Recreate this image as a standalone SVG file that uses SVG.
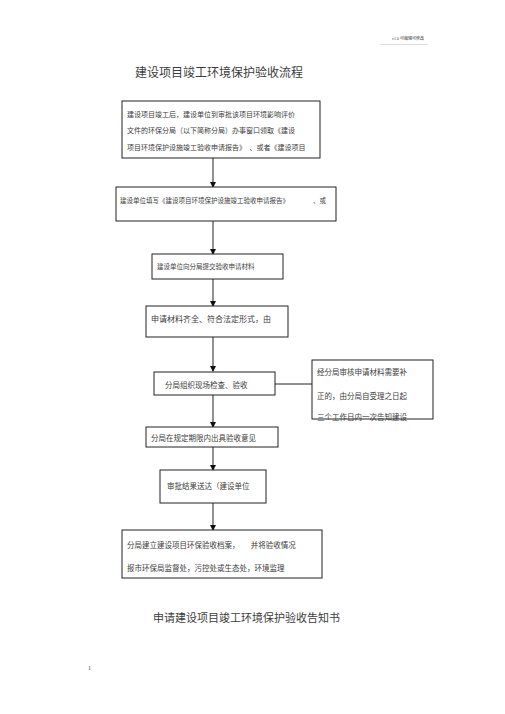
<svg xmlns="http://www.w3.org/2000/svg" width="505" height="714" viewBox="0 0 505 714">
<style>
.box{fill:#fff;stroke:#222;stroke-width:1}
.t{font-family:"Liberation Serif","Noto Sans CJK SC",serif;fill:#3c3c3c}
.c{stroke:#222;stroke-width:1;fill:none}
</style>
<defs>
<marker id="ah" markerWidth="6" markerHeight="6" refX="5" refY="3" orient="auto" markerUnits="userSpaceOnUse">
<path d="M0,0 L6,3 L0,6 Z" fill="#111"/>
</marker>
</defs>
<rect width="505" height="714" fill="#fff"/>
<g id="header">
<text class="t" x="392" y="40" font-size="4">v1.0 可编辑可修改</text>
<line x1="380" y1="44.5" x2="428" y2="44.5" stroke="#bbb" stroke-width="0.5"/>
</g>
<text class="t" x="135" y="77" font-size="12">建设项目竣工环境保护验收流程</text>
<g id="connectors">
<line class="c" x1="213" y1="158" x2="213" y2="187" marker-end="url(#ah)"/>
<line class="c" x1="213" y1="221" x2="213" y2="254" marker-end="url(#ah)"/>
<line class="c" x1="213" y1="279" x2="213" y2="306" marker-end="url(#ah)"/>
<line class="c" x1="213" y1="337" x2="213" y2="371" marker-end="url(#ah)"/>
<line class="c" x1="275" y1="384" x2="312" y2="384"/>
<line class="c" x1="213" y1="395" x2="213" y2="427" marker-end="url(#ah)"/>
<line class="c" x1="213" y1="447" x2="213" y2="470" marker-end="url(#ah)"/>
<line class="c" x1="213" y1="503" x2="213" y2="530" marker-end="url(#ah)"/>
</g>
<g id="n1">
<rect class="box" x="122" y="101" width="198" height="57"/>
<text class="t" x="127" y="117" font-size="7">建设项目竣工后，建设单位到审批该项目环境影响评价</text>
<text class="t" x="127" y="133" font-size="7">文件的环保分局（以下简称分局）办事窗口领取《建设</text>
<text class="t" x="127" y="150" font-size="7">项目环境保护设施竣工验收申请报告》　、或者《建设项目</text>
</g>
<g id="n2">
<rect class="box" x="116" y="187" width="220" height="34"/>
<text class="t" x="120" y="203" font-size="6.5">建设单位填写《建设项目环境保护设施竣工验收申请报告》</text>
<text class="t" x="313" y="203" font-size="6.5">、或</text>
</g>
<g id="n3">
<rect class="box" x="152" y="254" width="131" height="25"/>
<text class="t" x="157" y="269" font-size="6.5">建设单位向分局提交验收申请材料</text>
</g>
<g id="n4">
<rect class="box" x="146" y="306" width="142" height="31"/>
<text class="t" x="151" y="322" font-size="8">申请材料齐全、符合法定形式，由</text>
</g>
<g id="n5">
<rect class="box" x="154" y="372" width="121" height="23"/>
<text class="t" x="165" y="388" font-size="7.5">分局组织现场检查、验收</text>
</g>
<g id="n5b">
<rect class="box" x="312" y="360" width="121" height="59"/>
<text class="t" x="317" y="375" font-size="7.5">经分局审核申请材料需要补</text>
<text class="t" x="317" y="399" font-size="7.5">正的，由分局自受理之日起</text>
<text class="t" x="317" y="420" font-size="7.5">三个工作日内一次告知建设</text>
</g>
<g id="n6">
<rect class="box" x="146" y="427" width="132" height="20"/>
<text class="t" x="151" y="441" font-size="7.5">分局在规定期限内出具验收意见</text>
</g>
<g id="n7">
<rect class="box" x="160" y="470" width="106" height="33"/>
<text class="t" x="167" y="489" font-size="7.5">审批结果送达（建设单位</text>
</g>
<g id="n8">
<rect class="box" x="122" y="530" width="200" height="48"/>
<text class="t" x="127" y="548" font-size="7.5">分局建立建设项目环保验收档案，　　并将验收情况</text>
<text class="t" x="127" y="571" font-size="7.5">报市环保局监督处，污控处或生态处，环境监理</text>
</g>
<text class="t" x="153" y="622" font-size="11">申请建设项目竣工环境保护验收告知书</text>
<text class="t" x="88" y="670" font-size="6">1</text>
</svg>
